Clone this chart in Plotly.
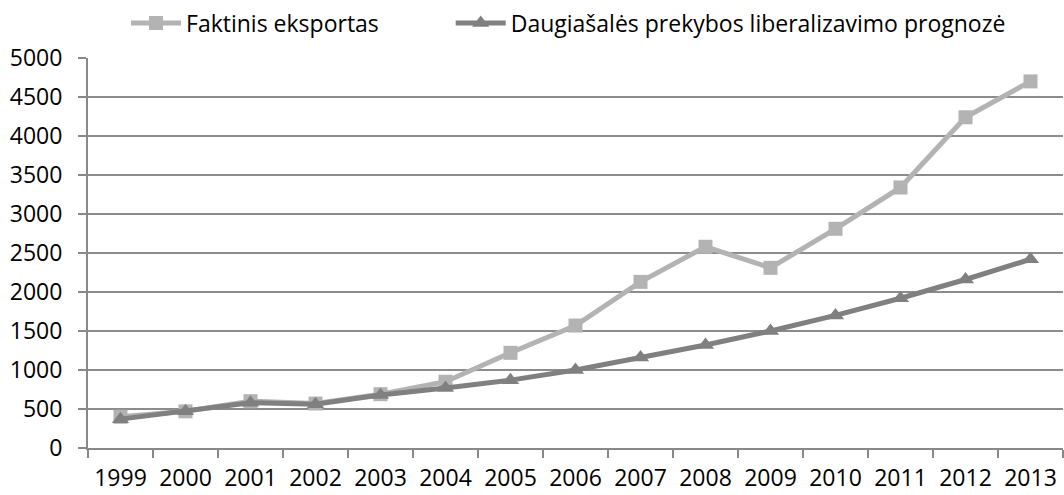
import plotly.graph_objects as go

years = ["1999", "2000", "2001", "2002", "2003", "2004", "2005", "2006",
         "2007", "2008", "2009", "2010", "2011", "2012", "2013"]
faktinis = [400, 470, 600, 570, 690, 850, 1220, 1570, 2130, 2580, 2310, 2810, 3340, 4240, 4700]
prognoze = [370, 470, 580, 560, 680, 770, 870, 1000, 1160, 1320, 1500, 1700, 1920, 2160, 2420]

fig = go.Figure()
fig.add_trace(go.Scatter(
    x=years, y=faktinis, name="Faktinis eksportas", mode="lines+markers",
    line=dict(color="#B3B3B3", width=5),
    marker=dict(symbol="square", size=14, color="#B3B3B3"),
    legend="legend",
))
fig.add_trace(go.Scatter(
    x=years, y=prognoze, name="Daugiašalės prekybos liberalizavimo prognozė", mode="lines+markers",
    line=dict(color="#808080", width=5),
    marker=dict(symbol="triangle-up", size=15, color="#808080"),
    legend="legend2",
))

fig.update_layout(
    width=1064, height=495,
    margin=dict(l=88, r=1, t=55, b=47),
    paper_bgcolor="white", plot_bgcolor="white",
    font=dict(family="Open Sans, Liberation Sans", size=23, color="#000000"),
    showlegend=True,
    legend=dict(orientation="h", x=0.039, xanchor="left", y=1.145, yanchor="top",
                font=dict(size=23), itemwidth=50, bgcolor="rgba(0,0,0,0)"),
    legend2=dict(orientation="h", x=0.372, xanchor="left", y=1.145, yanchor="top",
                 font=dict(size=23), itemwidth=50, bgcolor="rgba(0,0,0,0)"),
    xaxis=dict(type="category", showgrid=False, showline=True, linecolor="#888888", linewidth=2,
               ticks="outside", tickson="boundaries", ticklen=8, tickcolor="#888888", tickwidth=2,
               range=[-0.5, 14.5], ticklabelstandoff=8, tickangle=0, automargin=False),
    yaxis=dict(range=[0, 5000], dtick=500, showgrid=True, gridcolor="#8C8C8C", gridwidth=2,
               showline=True, linecolor="#888888", linewidth=2, ticks="outside", ticklen=8,
               tickcolor="#888888", tickwidth=2, zeroline=False, ticklabelstandoff=11,
               automargin=False),
)

fig.write_html(
    "out.html",
    config={"displayModeBar": False},
    post_script="document.body.style.margin='0';document.body.style.overflow='hidden';",
)
